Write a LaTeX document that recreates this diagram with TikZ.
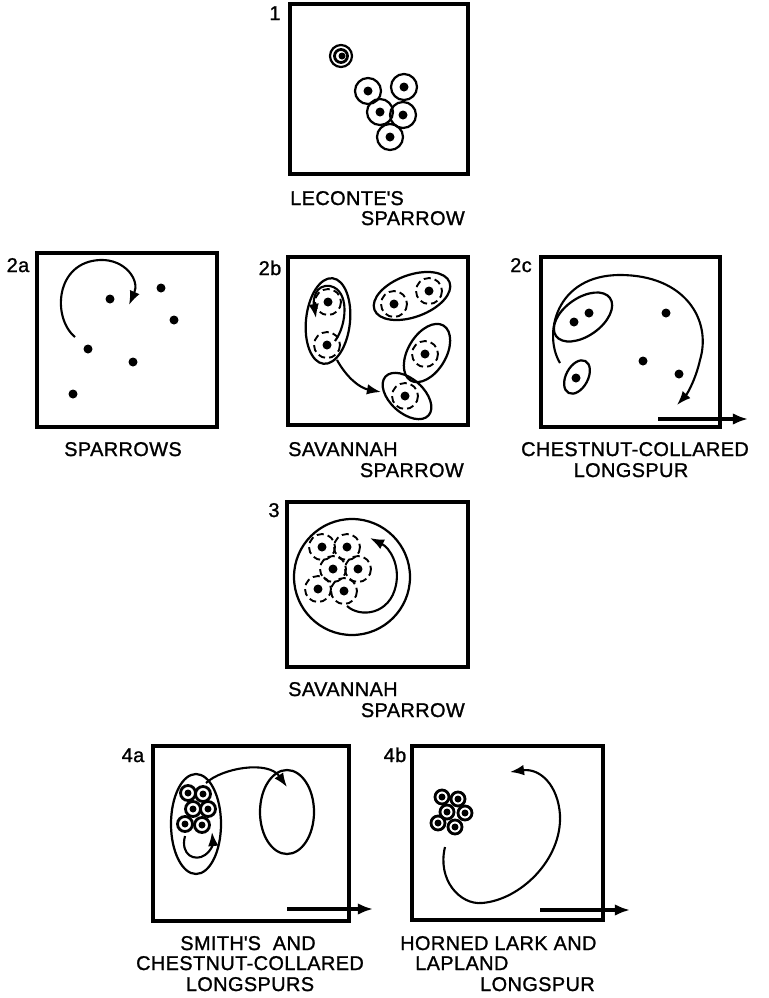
\documentclass[tikz,border=0pt]{standalone}
\usepackage{fontspec}
\newfontfamily\lettering[LetterSpace=2, FakeBold=1.2]{Liberation Sans}
\usetikzlibrary{arrows.meta}

\begin{document}
\begin{tikzpicture}[
    x=0.03cm, y=-0.03cm,
    frame/.style={line width=2.8pt},
    ring/.style={line width=1.9pt},
    dashring/.style={line width=1.6pt, dash pattern=on 6pt off 3.5pt},
    thickring/.style={line width=2.4pt},
    move/.style={-{Latex[length=12pt,width=9pt]}, line width=1.8pt},
    drift/.style={-{Latex[length=13pt,width=10pt]}, line width=2.8pt},
    lbl/.style={font=\lettering\fontsize{17}{18}\selectfont, inner sep=0pt}
]
\useasboundingbox (0,0) rectangle (769,998);

% Cadres
\draw[frame] (290,4) rectangle (468,174);
\draw[frame] (37,253) rectangle (217,427);
\draw[frame] (288,257) rectangle (468,425);
\draw[frame] (541,257) rectangle (720,427);
\draw[frame] (287,502) rectangle (468,667);
\draw[frame] (153,746) rectangle (349,921);
\draw[frame] (412,746) rectangle (603,920);

% Numeros
\node[lbl, anchor=base] (n1) at (275,20) {1};
\node[lbl, anchor=base] (n2a) at (18,272) {2a};
\node[lbl, anchor=base] (n2b) at (270,275) {2b};
\node[lbl, anchor=base] (n2c) at (521,272) {2c};
\node[lbl, anchor=base] (n3) at (274,517) {3};
\node[lbl, anchor=base] (n4a) at (133,762) {4a};
\node[lbl, anchor=base] (n4b) at (395,762) {4b};

% Legendes
\node[lbl, anchor=base west] (lec) at (290,205) {LECONTE\textquotesingle S};
\node[lbl, anchor=base east] (lecsp) at (465,225) {SPARROW};
\node[lbl, anchor=base] (spw) at (123,456) {SPARROWS};
\node[lbl, anchor=base west] (sav) at (288,456) {SAVANNAH};
\node[lbl, anchor=base east] (savsp) at (464,477) {SPARROW};
\node[lbl, anchor=base] (ccl) at (635,456) {CHESTNUT-COLLARED};
\node[lbl, anchor=base] (ccllong) at (631,477) {LONGSPUR};
\node[lbl, anchor=base west] (savb) at (288,696) {SAVANNAH};
\node[lbl, anchor=base east] (savbsp) at (465,717) {SPARROW};
\node[lbl, anchor=base] (smith) at (248,950) {SMITH\textquotesingle S~ AND};
\node[lbl, anchor=base] (smithccl) at (250,970) {CHESTNUT-COLLARED};
\node[lbl, anchor=base] (smithlong) at (250,991) {LONGSPURS};
\node[lbl, anchor=base west] (horned) at (400,950) {HORNED LARK AND};
\node[lbl, anchor=base west] (lap) at (415,970) {LAPLAND};
\node[lbl, anchor=base east] (laplong) at (595,991) {LONGSPUR};

% 1
\draw[ring] (341,56) circle [radius=11];
\draw[thickring] (341,56) circle [radius=6.5];
\fill (342,56) circle [radius=3.5];
\foreach \cx/\cy in {368/91, 404/87, 380/112, 403/115, 390/137} {
    \draw[ring] (\cx,\cy) circle [radius=13];
    \fill (\cx,\cy) circle [radius=4.5];
}

% 2a
\foreach \cx/\cy in {110/299, 161/288, 174/320, 88/349, 133/362, 73/394}
    \fill (\cx,\cy) circle [radius=4.5];
\draw[move] (75,337) .. controls (52,318) and (55,262) .. (100,260) .. controls (125,259) and (140,280) .. (129,305);

% 2b
\draw[ring, rotate around={-6:(328,321)}] (328,321) ellipse [x radius=22, y radius=43];
\draw[ring, rotate around={20:(412,296)}] (412,296) ellipse [x radius=40, y radius=21];
\draw[ring, rotate around={59:(427,353)}] (427,353) ellipse [x radius=32, y radius=19];
\draw[ring, rotate around={-42:(407,396)}] (407,396) ellipse [x radius=29, y radius=17];
\foreach \cx/\cy in {328/302, 327/345, 394/304, 429/291, 425/354, 405/396} {
    \draw[dashring] (\cx,\cy) circle [radius=13];
    \fill (\cx,\cy) circle [radius=4.5];
}
\draw[move] (335,341) .. controls (347,325) and (350,290) .. (330,286) .. controls (315,284) and (313,300) .. (316,318);
\draw[move] (337,360) .. controls (347,378) and (360,388) .. (381,392);

% 2c
\draw[ring, rotate around={35:(583,317)}] (583,317) ellipse [x radius=33, y radius=19];
\draw[ring, rotate around={62:(577,377)}] (577,377) ellipse [x radius=18, y radius=11];
\foreach \cx/\cy in {574/322, 589/313, 576/378, 666/313, 643/361, 679/374}
    \fill (\cx,\cy) circle [radius=4.5];
\draw[move] (560,363) .. controls (543,335) and (555,275) .. (620,275) .. controls (685,275) and (712,320) .. (700,360) .. controls (696,378) and (688,393) .. (677,405);
\draw[drift] (658,419) -- (748,419);

% 3
\draw[ring] (352,577) circle [radius=58];
\foreach \cx/\cy in {322/547, 347/547, 333/569, 358/569, 318/589, 344/591} {
    \draw[dashring] (\cx,\cy) circle [radius=13];
    \fill (\cx,\cy) circle [radius=4.5];
}
\draw[move] (347,606) .. controls (360,618) and (390,615) .. (396,585) .. controls (400,565) and (390,548) .. (370,538);

% 4a
\draw[ring] (196,824) ellipse [x radius=25, y radius=50];
\draw[ring] (287,812) ellipse [x radius=27, y radius=42];
\foreach \cx/\cy in {188/793, 203/794, 193/809, 208/809, 185/824, 202/825} {
    \draw[thickring] (\cx,\cy) circle [radius=7.5];
    \fill (\cx,\cy) circle [radius=3.5];
}
\draw[move] (206,783) .. controls (222,768) and (268,760) .. (287,787);
\draw[move] (185,836) .. controls (180,855) and (195,862) .. (205,855) .. controls (212,850) and (213,843) .. (212,832);
\draw[drift] (287,909) -- (373,909);

% 4b
\foreach \cx/\cy in {442/797, 458/799, 447/812, 465/813, 438/823, 455/827} {
    \draw[thickring] (\cx,\cy) circle [radius=7];
    \fill (\cx,\cy) circle [radius=3.5];
}
\draw[move] (445,847) .. controls (437,880) and (460,905) .. (482,903) .. controls (520,900) and (562,860) .. (560,815) .. controls (558,785) and (540,768) .. (510,772);
\draw[drift] (540,910) -- (630,910);

\end{tikzpicture}
\end{document}
